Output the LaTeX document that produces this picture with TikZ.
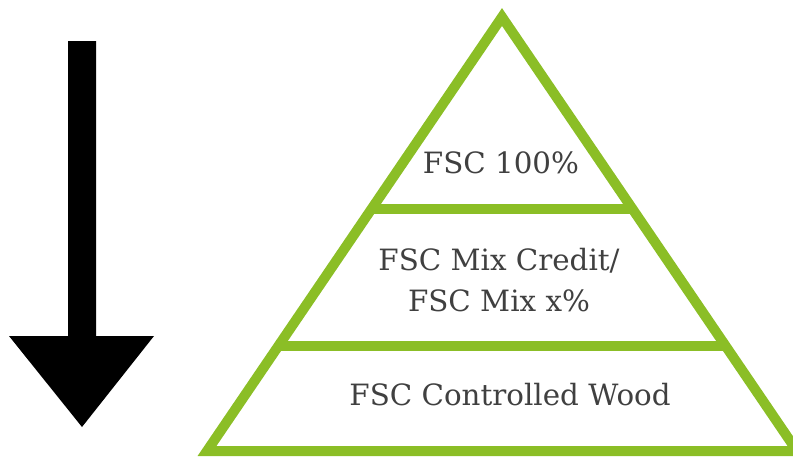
\documentclass[tikz,border=0pt]{standalone}
\usepackage{fontspec}
\setmainfont{DejaVu Serif}
\usepackage{tikz}
\usetikzlibrary{calc,positioning}
\definecolor{fscgreen}{RGB}{139,190,38}
\definecolor{fscgrey}{RGB}{64,64,64}
\tikzset{
  level/.style={draw=fscgreen,line width=7.5pt,miter limit=20},
  label/.style={text=fscgrey,align=center,font=\fontsize{22}{30.75}\selectfont,inner sep=0pt}
}

\begin{document}
\begin{tikzpicture}[x=0.75pt,y=-0.75pt]
\useasboundingbox (0,0) rectangle (793,457);
\clip (0,0) rectangle (793,457);
% pyramid
\coordinate (apex) at (502,17);
\coordinate (bl) at (207,451);
\coordinate (br) at (797,451);
\draw[level] (apex) -- (bl) -- (br) -- cycle;
\draw[level] ($(apex)!0.442!(bl)$) coordinate (l1) -- ($(apex)!0.442!(br)$) coordinate (r1);
\draw[level] ($(apex)!0.758!(bl)$) coordinate (l2) -- ($(apex)!0.758!(br)$) coordinate (r2);
\node[label] (top) at (501,163) {FSC 100\%};
\node[label] (mid) at (499,280) {FSC Mix Credit/\\FSC Mix x\%};
\node[label] (base) at (510,395) {FSC Controlled Wood};
% arrow
\coordinate (s1) at (68,41);
\coordinate (s2) at (96,41);
\fill (s1) -- (s2) -- (96,336) -- (154,336) -- (82,427) -- (9,336) -- (68,336) -- cycle;
\end{tikzpicture}
\end{document}
